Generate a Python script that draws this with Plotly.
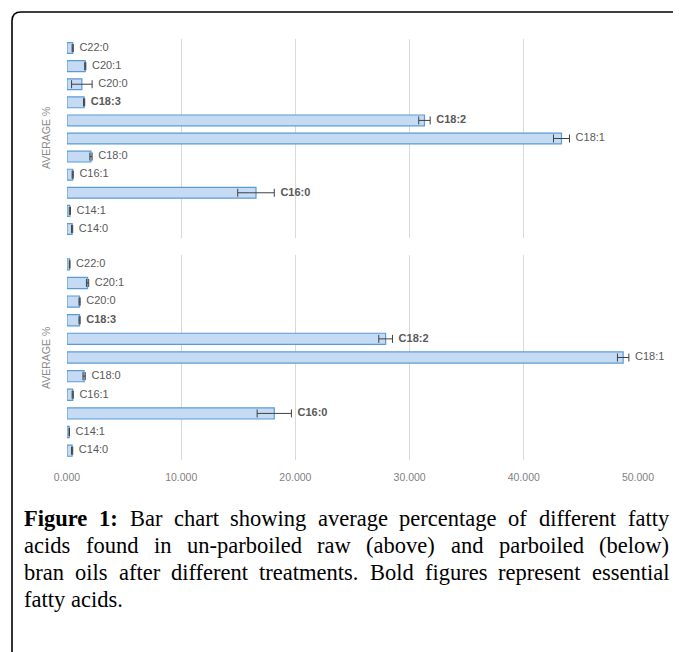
import plotly.graph_objects as go

# ---- data (bottom-to-top order for plotly's categorical axis) ----
categories = ["C14:0", "C14:1", "C16:0", "C16:1", "C18:0", "C18:1",
              "C18:2", "C18:3", "C20:0", "C20:1", "C22:0"]
bold_labels = ["C16:0", "C18:2", "C18:3"]

raw_means = [0.45, 0.25, 16.55, 0.50, 2.10, 43.30, 31.30, 1.50, 1.30, 1.60, 0.50]
raw_err   = [0.05, 0.05, 1.60, 0.05, 0.10, 0.70, 0.50, 0.05, 0.90, 0.05, 0.05]

par_means = [0.45, 0.20, 18.15, 0.50, 1.50, 48.70, 27.90, 1.10, 1.10, 1.80, 0.23]
par_err   = [0.05, 0.02, 1.50, 0.05, 0.10, 0.50, 0.60, 0.05, 0.05, 0.10, 0.03]

x_ticks = [0, 10, 20, 30, 40, 50]
x_tick_labels = ["0.000", "10.000", "20.000", "30.000", "40.000", "50.000"]

y_title = "AVERAGE %"
caption_lines = [
    [("Figure", True), ("1:", True), ("Bar", False), ("chart", False), ("showing", False),
     ("average", False), ("percentage", False), ("of", False), ("different", False), ("fatty", False)],
    [(w, False) for w in "acids found in un-parboiled raw (above) and parboiled (below)".split()],
    [(w, False) for w in "bran oils after different treatments. Bold figures represent essential".split()],
    [(w, False) for w in "fatty acids.".split()],
]

# ---- geometry helpers: page has an 8px body margin ----
W, H = 681, 652
OFF = 8
def px_x(p): return (p - OFF) / W
def px_y(p): return 1 - (p - OFF) / H

BAR_FILL = "#c5dbf3"
BAR_LINE = "#5b9bd5"
TXT = "#595959"
FONT = "Liberation Sans"
SERIF = "Liberation Serif"

fig = go.Figure()

def label_text(c):
    return "<b>" + c + "</b>" if c in bold_labels else c

for means, errs, xa, ya in [(raw_means, raw_err, "x", "y"),
                            (par_means, par_err, "x2", "y2")]:
    fig.add_trace(go.Bar(
        y=categories, x=means, orientation="h", xaxis=xa, yaxis=ya,
        width=0.6,
        marker=dict(color=BAR_FILL, line=dict(color=BAR_LINE, width=1.2)),
        error_x=dict(type="data", array=errs, visible=True,
                     color="#404040", thickness=1, width=4),
        showlegend=False, hoverinfo="skip",
    ))
    fig.add_trace(go.Scatter(
        y=categories, x=[m + e for m, e in zip(means, errs)],
        xaxis=xa, yaxis=ya, mode="text",
        text=["  " + label_text(c) for c in categories],
        textposition="middle right",
        textfont=dict(family=FONT, size=11, color=TXT),
        showlegend=False, hoverinfo="skip", cliponaxis=False,
    ))

xdom = [px_x(67), px_x(638)]
grid = dict(showgrid=True, gridcolor="#d9d9d9", gridwidth=1,
            zeroline=False, showline=False, ticks="", automargin=False,
            range=[0, 50], tickvals=x_ticks, ticktext=x_tick_labels,
            domain=xdom)
ycommon = dict(categoryorder="array", categoryarray=categories,
               range=[-0.5, 10.5], showticklabels=False, showgrid=False,
               zeroline=False, automargin=False)
fig.update_layout(
    xaxis=dict(**grid, anchor="y", showticklabels=False),
    xaxis2=dict(**grid, anchor="y2", showticklabels=True,
                tickfont=dict(family=FONT, size=10.5, color="#7f7f7f"),
                ticklabelstandoff=9),
    yaxis=dict(**ycommon, domain=[px_y(238), px_y(39)], anchor="x"),
    yaxis2=dict(**ycommon, domain=[px_y(460), px_y(255)], anchor="x2"),
    width=W, height=H, margin=dict(l=0, r=0, t=0, b=0, autoexpand=False),
    paper_bgcolor="white", plot_bgcolor="white",
)

annotations = []
for yc in [138, 358]:
    annotations.append(dict(
        x=px_x(46), y=px_y(yc), xref="paper", yref="paper",
        text=y_title, textangle=-90, showarrow=False,
        font=dict(family=FONT, size=10.5, color="#8a8a8a"),
        xanchor="center", yanchor="middle"))

# Times-compatible advance widths (per 1000 em) for justified caption layout
REG = {" ": 250, "(": 333, ")": 333, "-": 333, ".": 250, ":": 278, "1": 500,
       "A": 722, "B": 667, "F": 556, "a": 444, "b": 500, "c": 444, "d": 500,
       "e": 444, "f": 333, "g": 500, "h": 500, "i": 278, "l": 278, "m": 778,
       "n": 500, "o": 500, "p": 500, "r": 333, "s": 389, "t": 278, "u": 500,
       "v": 500, "w": 722, "y": 500}
BOLD = {"F": 611, "i": 278, "g": 500, "u": 556, "r": 444, "e": 444, "1": 500,
        ":": 333, " ": 250}
CAP_SIZE = 22.5
def wwidth(word, bold):
    tab = BOLD if bold else REG
    return sum(tab.get(ch, 500) for ch in word) * CAP_SIZE / 1000.0

LEFT, RIGHT = 23, 668
line_y = [518, 545.5, 572.5, 599.5]
for li, words in enumerate(caption_lines):
    widths = [wwidth(w, b) for w, b in words]
    if li < len(caption_lines) - 1 and len(words) > 1:
        gap = (RIGHT - LEFT - sum(widths)) / (len(words) - 1)
    else:
        gap = 250 * CAP_SIZE / 1000.0
    x = LEFT
    for (w, b), wd in zip(words, widths):
        annotations.append(dict(
            x=px_x(x), y=px_y(line_y[li]), xref="paper", yref="paper",
            text=("<b>" + w + "</b>") if b else w, showarrow=False,
            xanchor="left", yanchor="middle", borderpad=0,
            font=dict(family=SERIF, size=CAP_SIZE, color="black")))
        x += wd + gap
fig.update_layout(annotations=annotations)

# rounded frame: only the top-left corner is visible; it runs off canvas
x0, y0, r = 12, 12, 9
path = (f"M {px_x(x0)},{px_y(H + 40)} L {px_x(x0)},{px_y(y0 + r)} "
        f"Q {px_x(x0)},{px_y(y0)} {px_x(x0 + r)},{px_y(y0)} "
        f"L {px_x(W + 40)},{px_y(y0)}")
fig.add_shape(type="path", path=path, xref="paper", yref="paper",
              line=dict(color="black", width=1.6))

fig.write_html("out.html")
